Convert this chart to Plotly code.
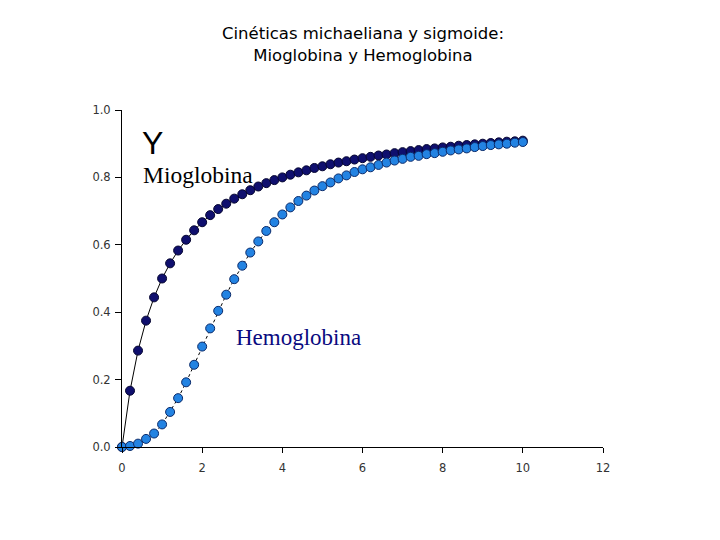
import plotly.graph_objects as go

s_values = [round(i * 0.2, 1) for i in range(51)]

mioglobina = [0.000, 0.167, 0.286, 0.375, 0.444, 0.500, 0.545, 0.583, 0.615, 0.643,
              0.667, 0.688, 0.706, 0.722, 0.737, 0.750, 0.762, 0.773, 0.783, 0.792,
              0.800, 0.808, 0.815, 0.821, 0.828, 0.833, 0.839, 0.844, 0.848, 0.853,
              0.857, 0.861, 0.865, 0.868, 0.872, 0.875, 0.878, 0.881, 0.884, 0.886,
              0.889, 0.891, 0.894, 0.896, 0.898, 0.900, 0.902, 0.904, 0.906, 0.907,
              0.909]

hemoglobina = [0.000, 0.003, 0.010, 0.024, 0.040, 0.067, 0.104, 0.145, 0.192, 0.244,
               0.298, 0.352, 0.404, 0.452, 0.498, 0.538, 0.577, 0.610, 0.641, 0.667,
               0.690, 0.711, 0.730, 0.746, 0.761, 0.774, 0.785, 0.797, 0.806, 0.816,
               0.824, 0.830, 0.837, 0.844, 0.850, 0.855, 0.861, 0.864, 0.869, 0.872,
               0.876, 0.880, 0.883, 0.886, 0.890, 0.893, 0.896, 0.898, 0.900, 0.903,
               0.905]

x_ticks = [0, 2, 4, 6, 8, 10, 12]
y_ticks = [0.0, 0.2, 0.4, 0.6, 0.8, 1.0]

fig = go.Figure()
fig.add_trace(go.Scatter(
    x=s_values, y=mioglobina, mode="lines+markers",
    line=dict(color="black", width=1),
    marker=dict(size=9, color="#0f0f6e", line=dict(color="#050530", width=1)),
    cliponaxis=False, showlegend=False))
fig.add_trace(go.Scatter(
    x=s_values, y=hemoglobina, mode="lines+markers",
    line=dict(color="black", width=1, dash="dot"),
    marker=dict(size=9, color="#2383e2", line=dict(color="#0a2a6a", width=1)),
    cliponaxis=False, showlegend=False))

tick_font = dict(family="DejaVu Sans", size=11.5, color="#333333")

fig.update_layout(
    width=712, height=532,
    margin=dict(l=114, r=117, t=102, b=93),
    paper_bgcolor="white", plot_bgcolor="white",
    title=dict(text="Cinéticas michaeliana y sigmoide:<br>Mioglobina y Hemoglobina",
               x=0.501, xref="paper", xanchor="center", y=0.941, yanchor="middle",
               font=dict(family="DejaVu Sans", size=16.5, color="black")),
    xaxis=dict(range=[0, 12], tickvals=x_ticks, ticktext=[str(v) for v in x_ticks],
               showgrid=False, zeroline=False, showline=True, linecolor="black", linewidth=1,
               ticks="outside", ticklen=5, tickcolor="black", tickfont=tick_font,
               ticklabelstandoff=5),
    yaxis=dict(range=[0, 1.0], tickvals=y_ticks, ticktext=["%.1f" % v for v in y_ticks],
               showgrid=False, zeroline=False, showline=True, linecolor="black", linewidth=1,
               ticks="outside", ticklen=6, tickcolor="black", tickfont=tick_font,
               ticklabelstandoff=2),
    annotations=[
        dict(x=0.773, y=0.901, xref="x", yref="y", text="Y", showarrow=False,
             font=dict(family="Liberation Sans, Arial", size=32, color="black")),
        dict(x=0.474, y=0.807, xref="x", yref="y", text="Mioglobina", showarrow=False,
             xanchor="left", font=dict(family="Liberation Serif, Times New Roman", size=23.5, color="black")),
        dict(x=2.8, y=0.326, xref="x", yref="y", text="Hemoglobina", showarrow=False,
             xanchor="left", font=dict(family="Liberation Serif, Times New Roman", size=23, color="#0a0a80")),
        dict(x=10.87, y=-0.156, xref="x", yref="y", text="s", showarrow=False,
             font=dict(family="Liberation Sans, Arial", size=28, color="black")),
    ],
)

fig.write_html("out.html")
